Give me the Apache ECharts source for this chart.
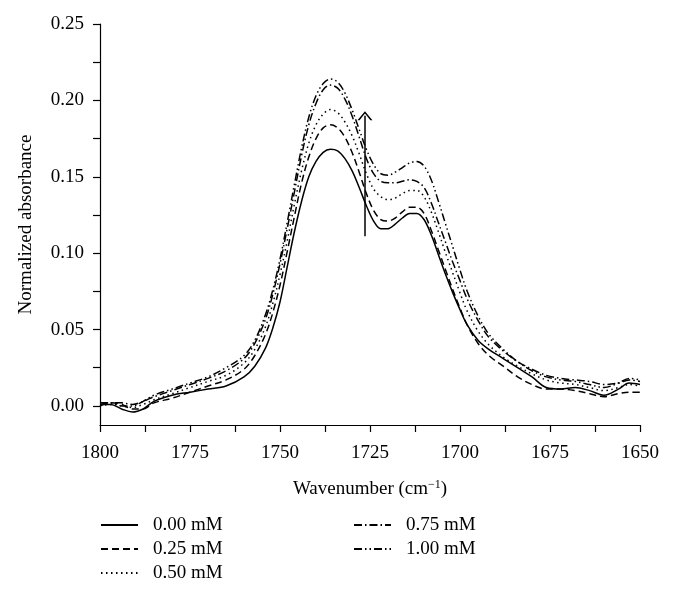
<!DOCTYPE html>
<html>
<head>
<meta charset="utf-8">
<script src="https://cdn.jsdelivr.net/npm/echarts@6/dist/echarts.min.js"></script>
<style>html,body{margin:0;padding:0;background:#fff}#c{width:676px;height:601px}</style>
</head>
<body>
<div id="c"></div>
<script>
// Wavenumbers (cm^-1)
const wavenumbers = [1800,1797,1794,1791,1788,1785,1780,1775,1770,1765,1760,1757,1754,1752,1750,1748,1746,1744,1742,1740,1738,1736,1734,1732,1730,1728,1726,1724,1722,1720,1718,1716,1714,1712,1710,1708,1706,1704,1702,1700,1698,1695,1692,1688,1684,1680,1676,1672,1668,1664,1660,1656,1653,1650];

const seriesNames = ['0.00 mM','0.25 mM','0.50 mM','0.75 mM','1.00 mM'];

const abs000 = [0.001,0.001,-0.002,-0.004,-0.002,0.003,0.007,0.009,0.011,0.013,0.019,0.026,0.038,0.051,0.068,0.091,0.114,0.134,0.150,0.160,0.166,0.168,0.167,0.162,0.154,0.143,0.131,0.121,0.116,0.116,0.119,0.123,0.126,0.126,0.122,0.112,0.099,0.086,0.074,0.063,0.053,0.043,0.037,0.031,0.025,0.019,0.012,0.011,0.012,0.010,0.007,0.011,0.015,0.014];
const abs025 = [0.001,0.002,0.001,-0.002,-0.002,0.002,0.005,0.009,0.013,0.017,0.024,0.033,0.047,0.061,0.079,0.101,0.124,0.146,0.163,0.175,0.182,0.184,0.182,0.176,0.166,0.153,0.139,0.128,0.122,0.121,0.123,0.127,0.130,0.130,0.126,0.115,0.102,0.089,0.076,0.064,0.053,0.041,0.033,0.026,0.019,0.014,0.011,0.011,0.010,0.008,0.006,0.008,0.009,0.009];
const abs050 = [0.000,0.001,0.000,-0.001,0.001,0.004,0.008,0.012,0.016,0.020,0.028,0.037,0.052,0.067,0.086,0.108,0.132,0.154,0.172,0.184,0.191,0.194,0.192,0.186,0.177,0.165,0.152,0.142,0.137,0.135,0.136,0.139,0.141,0.141,0.137,0.127,0.114,0.100,0.087,0.074,0.062,0.049,0.040,0.032,0.026,0.021,0.017,0.015,0.014,0.012,0.010,0.012,0.014,0.013];
const abs075 = [0.000,0.002,0.002,0.001,0.003,0.006,0.010,0.014,0.018,0.023,0.031,0.041,0.057,0.073,0.093,0.116,0.140,0.164,0.184,0.198,0.207,0.210,0.208,0.201,0.190,0.176,0.162,0.152,0.147,0.146,0.146,0.147,0.148,0.147,0.143,0.133,0.120,0.107,0.094,0.082,0.070,0.056,0.045,0.036,0.029,0.024,0.020,0.018,0.017,0.016,0.014,0.015,0.017,0.016];
const abs100 = [0.002,0.002,0.000,0.000,0.003,0.007,0.011,0.015,0.019,0.025,0.033,0.043,0.060,0.076,0.096,0.120,0.145,0.169,0.189,0.203,0.211,0.214,0.212,0.205,0.194,0.181,0.168,0.158,0.152,0.151,0.153,0.156,0.159,0.160,0.157,0.148,0.134,0.119,0.104,0.089,0.075,0.059,0.047,0.037,0.029,0.023,0.019,0.017,0.016,0.014,0.012,0.015,0.018,0.017];

// Axis ticks and labels
const xTickValues = [1800,1787.5,1775,1762.5,1750,1737.5,1725,1712.5,1700,1687.5,1675,1662.5,1650];
const xLabelValues = [1800,1775,1750,1725,1700,1675,1650];
const yTickValues = [0,0.025,0.05,0.075,0.1,0.125,0.15,0.175,0.2,0.225,0.25];
const yLabelValues = [0,0.05,0.1,0.15,0.2,0.25];

// Arrow annotation (wavenumber, absorbance from -> to)
const arrowX = 1726.4;
const arrowFrom = 0.111;
const arrowTo = 0.190;

const allAbs = [abs000, abs025, abs050, abs075, abs100];
const dashTypes = ['solid', [7,4], [1.5,3.5], [8,3,1.5,3], [8,3,1.5,3,1.5,3]];
const FONT = 'Liberation Serif';

const series = seriesNames.map((name, i) => {
  const s = {
    name: name,
    type: 'line',
    data: wavenumbers.map((w, j) => [w, allAbs[i][j]]),
    symbol: 'none',
    showSymbol: false,
    smooth: 0.35,
    lineStyle: { color: '#000', width: 1.5, type: dashTypes[i] },
    itemStyle: { color: '#000' },
    animation: false,
    z: 2
  };
  if (i === 0) {
    s.markLine = {
      silent: true,
      animation: false,
      symbol: ['none', 'path://M0,10 L5,0 L10,10 L8.6,10 L5,2.6 L1.4,10 Z'],
      symbolSize: [15, 9],
      label: { show: false },
      lineStyle: { color: '#000', width: 1.5, type: 'solid' },
      data: [[{ coord: [arrowX, arrowFrom] }, { coord: [arrowX, arrowTo] }]]
    };
  }
  return s;
});

const legendCommon = {
  orient: 'vertical', top: 515, padding: 0,
  itemWidth: 37, itemHeight: 14, itemGap: 4,
  itemStyle: { color: 'rgba(0,0,0,0)', borderWidth: 0, opacity: 0 },
  textStyle: { fontFamily: FONT, fontSize: 19, color: '#000', lineHeight: 20, padding: [0, 0, 0, 10] },
  selectedMode: false
};

const chart = echarts.init(document.getElementById('c'), null, { renderer: 'canvas' });
chart.setOption({
  backgroundColor: '#fff',
  animation: false,
  textStyle: { fontFamily: FONT },
  grid: { left: 100, right: 36, top: 24, bottom: 176 },
  xAxis: {
    type: 'value',
    min: 1650, max: 1800, inverse: true,
    name: 'Wavenumber (cm{sup|\u22121})',
    nameLocation: 'middle',
    nameGap: 54,
    nameTextStyle: {
      fontFamily: FONT, fontSize: 19, color: '#000',
      rich: { sup: { fontFamily: FONT, fontSize: 12, color: '#000', padding: [0, 0, 9, 0] } }
    },
    axisLine: { show: true, onZero: false, lineStyle: { color: '#000', width: 1.2 } },
    axisTick: { show: true, length: 7, inside: false, customValues: xTickValues, lineStyle: { color: '#000', width: 1.2 } },
    axisLabel: { customValues: xLabelValues, formatter: v => String(v), fontFamily: FONT, fontSize: 19, color: '#000', margin: 19 },
    splitLine: { show: false }
  },
  yAxis: {
    type: 'value',
    min: -0.0125, max: 0.25,
    name: 'Normalized absorbance',
    nameLocation: 'middle',
    nameGap: 64,
    nameTextStyle: { fontFamily: FONT, fontSize: 19, color: '#000' },
    axisLine: { show: true, onZero: false, lineStyle: { color: '#000', width: 1.2 } },
    axisTick: { show: true, length: 7, inside: false, customValues: yTickValues, lineStyle: { color: '#000', width: 1.2 } },
    axisLabel: { customValues: yLabelValues, formatter: v => v.toFixed(2), fontFamily: FONT, fontSize: 19, color: '#000', margin: 16 },
    splitLine: { show: false }
  },
  legend: [
    Object.assign({}, legendCommon, { data: seriesNames.slice(0, 3), left: 100 }),
    Object.assign({}, legendCommon, { data: seriesNames.slice(3), left: 353 })
  ],
  series: series
});
</script>
</body>
</html>
